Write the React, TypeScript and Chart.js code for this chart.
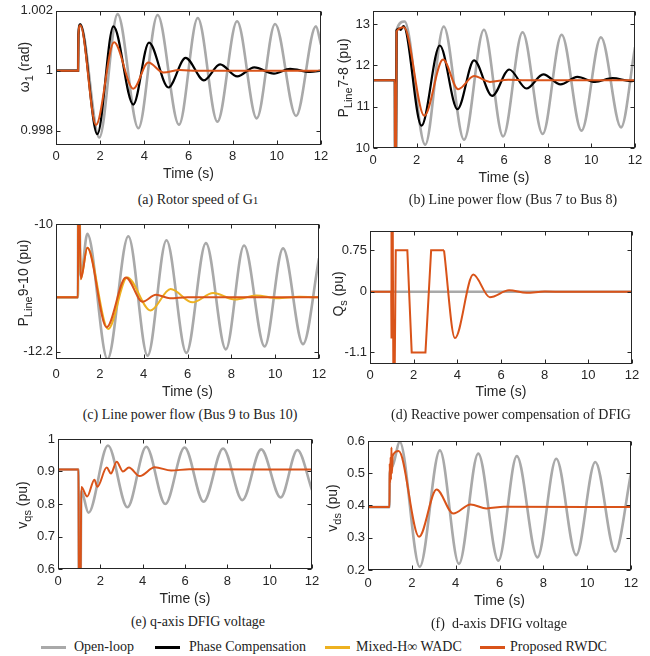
import React, { useEffect, useRef } from 'react';
import { Chart, registerables } from 'chart.js';
Chart.register(...registerables);

type P = [number, number];

// ---------------- data (time in s, value) ----------------
const TIME_TICKS = [0, 2, 4, 6, 8, 10, 12];

// (a) Rotor speed of G1
const A_Y_TICKS = [0.998, 1, 1.002];
const A_OPEN: P[] = [[0, 1], [1.0, 1], [1.015, 1.0012], [1.1, 1.00155], [1.96, 0.99777], [2.79, 1.00189], [3.73, 0.99808], [4.6, 1.00186], [5.57, 0.9982], [6.42, 1.00176], [7.31, 0.9983], [8.2, 1.00165], [9.09, 0.99841], [9.92, 1.00156], [10.87, 0.99849], [11.77, 1.00148], [12, 1.00087]];
const A_PHASE: P[] = [[0, 1], [1.0, 1], [1.015, 1.0012], [1.1, 1.00155], [1.87, 0.99788], [2.6, 1.00148], [3.5, 0.99887], [4.21, 1.00094], [5.09, 0.99944], [5.87, 1.00043], [6.7, 0.99968], [7.43, 1.00021], [8.21, 0.99981], [8.98, 1.00011], [9.87, 0.9999], [10.6, 1.00006], [11.5, 0.99996], [12, 1]];
const A_RWDC: P[] = [[0, 1], [1.0, 1], [1.015, 1.0012], [1.1, 1.00152], [1.81, 0.99819], [2.63, 1.00095], [3.5, 0.9994], [4.18, 1.00027], [4.86, 0.99994], [5.6, 1.00002], [6.4, 1], [12, 1]];

// (b) Line power flow 7-8
const B_Y_TICKS = [10, 11, 12, 13];
const B_OPEN: P[] = [[0, 11.64], [1.0, 11.64], [1.01, 9.2], [1.05, 9.2], [1.08, 12.85], [1.45, 13.06], [2.39, 10.08], [3.24, 12.94], [4.17, 10.2], [5.08, 12.86], [5.96, 10.28], [6.85, 12.8], [7.77, 10.34], [8.64, 12.74], [9.55, 10.42], [10.44, 12.68], [11.36, 10.5], [12, 12.44]];
const B_PHASE: P[] = [[0, 11.64], [1.0, 11.64], [1.01, 9.2], [1.05, 9.2], [1.08, 12.85], [1.2, 12.89], [1.27, 12.86], [1.4, 12.95], [2.22, 10.54], [3.06, 12.48], [3.87, 10.94], [4.63, 12.12], [5.46, 11.26], [6.24, 11.9], [7.03, 11.44], [7.8, 11.78], [8.59, 11.54], [9.36, 11.72], [10.17, 11.6], [10.98, 11.69], [11.8, 11.62], [12, 11.63]];
const B_RWDC: P[] = [[0, 11.64], [1.0, 11.64], [1.01, 9.2], [1.05, 9.2], [1.08, 12.82], [1.42, 12.92], [2.35, 10.78], [3.21, 12.14], [3.9, 11.42], [4.63, 11.74], [5.35, 11.6], [6.2, 11.65], [7, 11.64], [12, 11.64]];

// (c) Line power flow 9-10
const C_Y_TICKS = [-12.2, -10];
const C_OPEN: P[] = [[0, -11.264], [1.0, -11.264], [1.015, -9.5], [1.05, -9.5], [1.13, -10.9], [1.43, -10.17], [2.35, -12.33], [3.3, -10.21], [4.18, -12.27], [5.04, -10.28], [5.95, -12.22], [6.84, -10.33], [7.75, -12.16], [8.58, -10.37], [9.52, -12.11], [10.36, -10.42], [11.27, -12.07], [12, -10.59]];
const C_MIXED: P[] = [[0, -11.264], [1.0, -11.264], [1.015, -9.5], [1.05, -9.5], [1.13, -10.95], [1.43, -10.41], [2.38, -11.81], [3.25, -10.92], [4.31, -11.49], [5.23, -11.12], [6.23, -11.35], [7.17, -11.19], [8.16, -11.3], [9.14, -11.23], [10.1, -11.28], [11.1, -11.255], [12, -11.264]];
const C_RWDC: P[] = [[0, -11.264], [1.0, -11.264], [1.015, -9.5], [1.05, -9.5], [1.13, -10.95], [1.43, -10.41], [2.31, -11.78], [3.19, -10.92], [3.95, -11.34], [4.56, -11.22], [5.2, -11.28], [6.0, -11.26], [12, -11.264]];

// (d) Reactive power compensation of DFIG
const D_Y_TICKS = [-1.1, 0, 0.75];
const D_OPEN: P[] = [[0, 0], [12, 0]];
const D_RWDC_SAT: P[] = [[0, 0], [0.97, 0], [0.98, -0.85], [0.99, 1.4], [1.02, 1.4], [1.03, -0.85], [1.05, 1.4], [1.07, -1.5], [1.13, -1.5], [1.18, 0.75], [1.71, 0.75], [1.91, -1.1], [2.54, -1.1], [2.8, 0.75], [3.39, 0.75]];
const D_RWDC_OSC: P[] = [[3.39, 0.75], [3.89, -0.84], [4.73, 0.31], [5.49, -0.1], [6.37, 0.025], [7.17, -0.02], [8.0, 0.002], [9, 0], [12, 0]];

// (e) q-axis DFIG voltage
const E_Y_TICKS = [0.6, 0.7, 0.8, 0.9, 1];
const E_OPEN: P[] = [[0, 0.906], [0.97, 0.906], [0.99, 0.5], [1.06, 0.5], [1.1, 0.84], [1.44, 0.773], [2.36, 0.98], [3.28, 0.79], [4.17, 0.976], [5.07, 0.8], [5.98, 0.974], [6.88, 0.807], [7.8, 0.971], [8.71, 0.812], [9.6, 0.968], [10.52, 0.82], [11.31, 0.966], [12, 0.843]];
const E_RWDC: P[] = [[0, 0.906], [0.97, 0.906], [0.99, 0.5], [1.06, 0.5], [1.1, 0.852], [1.38, 0.823], [1.72, 0.875], [1.86, 0.853], [2.3, 0.912], [2.5, 0.894], [2.77, 0.93], [3.07, 0.9], [3.35, 0.912], [3.86, 0.886], [4.57, 0.913], [5.35, 0.903], [6.2, 0.907], [12, 0.906]];

// (f) d-axis DFIG voltage
const F_Y_TICKS = [0.2, 0.3, 0.4, 0.5, 0.6];
const F_OPEN: P[] = [[0, 0.395], [0.98, 0.395], [0.995, 0.5], [1.1, 0.52], [1.45, 0.597], [2.36, 0.21], [3.28, 0.571], [4.15, 0.219], [5.03, 0.561], [5.95, 0.229], [6.79, 0.553], [7.73, 0.239], [8.59, 0.545], [9.5, 0.246], [10.37, 0.535], [11.28, 0.257], [12, 0.5]];
const F_RWDC: P[] = [[0, 0.395], [0.98, 0.395], [0.99, 0.53], [1.01, 0.47], [1.03, 0.55], [1.05, 0.48], [1.07, 0.58], [1.09, 0.5], [1.13, 0.555], [1.4, 0.569], [2.33, 0.303], [3.13, 0.45], [3.89, 0.375], [4.68, 0.403], [5.41, 0.391], [6.2, 0.396], [12, 0.395]];

const LEGEND_LABELS = ['Open-loop', 'Phase Compensation', 'Mixed-H\u221E WADC', 'Proposed RWDC'];

// ---------------- styles ----------------
const C_OPEN_COL = '#a9a9a9';
const C_PHASE_COL = '#000000';
const C_MIXED_COL = '#EDB120';
const C_RWDC_COL = '#D95319';
const AX = '#262626';
const SANS = '"Liberation Sans", Arial, Helvetica, sans-serif';
const SERIF = '"Liberation Serif", "Times New Roman", serif';
const TICK_SIZE = 13;
const TITLE_SIZE = 14;

interface Series { data: P[]; color: string; width: number; smooth: boolean }
interface TitlePart { text: string; sub?: boolean }
interface PanelCfg {
  box: { left: number; top: number; width: number; height: number };
  plot: { left: number; top: number; right: number; bottom: number };
  yMin: number; yMax: number; yTicks: number[];
  yTitle: TitlePart[]; yTitleX: number; yTitleY: number;
  xTickPad: number;
  series: Series[];
}

const sRwdc = (d: P[], smooth = true): Series => ({ data: d, color: C_RWDC_COL, width: 2, smooth });
const sMixed = (d: P[]): Series => ({ data: d, color: C_MIXED_COL, width: 2, smooth: true });
const sPhase = (d: P[]): Series => ({ data: d, color: C_PHASE_COL, width: 2.2, smooth: true });
const sOpen = (d: P[]): Series => ({ data: d, color: C_OPEN_COL, width: 2.6, smooth: true });

const PANELS: PanelCfg[] = [
  {
    box: { left: 0, top: 0, width: 335, height: 183 },
    plot: { left: 56, top: 10, right: 321, bottom: 145 },
    yMin: 0.99752, yMax: 1.002, yTicks: A_Y_TICKS,
    yTitle: [{ text: '\u03C9' }, { text: '1', sub: true }, { text: ' (rad)' }], yTitleX: 25, yTitleY: 67,
    xTickPad: 3.9,
    series: [sRwdc(A_RWDC), sPhase(A_PHASE), sOpen(A_OPEN)],
  },
  {
    box: { left: 325, top: 0, width: 325, height: 187 },
    plot: { left: 373, top: 10, right: 635, bottom: 148 },
    yMin: 10, yMax: 13.32, yTicks: B_Y_TICKS,
    yTitle: [{ text: 'P' }, { text: 'Line', sub: true }, { text: '7-8 (pu)' }], yTitleX: 344, yTitleY: 78,
    xTickPad: 4.9,
    series: [sRwdc(B_RWDC), sPhase(B_PHASE), sOpen(B_OPEN)],
  },
  {
    box: { left: 0, top: 210, width: 335, height: 191 },
    plot: { left: 56, top: 224, right: 319, bottom: 359 },
    yMin: -12.326, yMax: -10, yTicks: C_Y_TICKS,
    yTitle: [{ text: 'P' }, { text: 'Line', sub: true }, { text: '9-10 (pu)' }], yTitleX: 24, yTitleY: 283,
    xTickPad: 7.2,
    series: [sRwdc(C_RWDC), sMixed(C_MIXED), sOpen(C_OPEN)],
  },
  {
    box: { left: 325, top: 212, width: 325, height: 189 },
    plot: { left: 370, top: 231, right: 632, bottom: 364 },
    yMin: -1.31, yMax: 1.1, yTicks: D_Y_TICKS,
    yTitle: [{ text: 'Q' }, { text: 's', sub: true }, { text: ' (pu)' }], yTitleX: 339, yTitleY: 294,
    xTickPad: 3.9,
    series: [sRwdc(D_RWDC_SAT, false), sRwdc(D_RWDC_OSC), sOpen(D_OPEN)],
  },
  {
    box: { left: 0, top: 425, width: 335, height: 183 },
    plot: { left: 58, top: 439, right: 312, bottom: 569 },
    yMin: 0.6, yMax: 1, yTicks: E_Y_TICKS,
    yTitle: [{ text: 'v' }, { text: 'qs', sub: true }, { text: ' (pu)' }], yTitleX: 23, yTitleY: 505,
    xTickPad: 4.2,
    series: [sRwdc(E_RWDC), sOpen(E_OPEN)],
  },
  {
    box: { left: 325, top: 425, width: 325, height: 185 },
    plot: { left: 368, top: 441, right: 631, bottom: 570 },
    yMin: 0.2, yMax: 0.6, yTicks: F_Y_TICKS,
    yTitle: [{ text: 'v' }, { text: 'ds', sub: true }, { text: ' (pu)' }], yTitleX: 333, yTitleY: 508,
    xTickPad: 5.5,
    series: [sRwdc(F_RWDC), sOpen(F_OPEN)],
  },
];

const fmt = (v: number) => String(Number(Number(v).toFixed(4)));

function Panel({ cfg }: { cfg: PanelCfg }) {
  const ref = useRef<HTMLCanvasElement>(null);
  useEffect(() => {
    const c = cfg;
    const boxPlugin = {
      id: 'matlabBox',
      afterDatasetsDraw(chart: any) {
        const { ctx, chartArea: a, scales } = chart;
        ctx.save();
        ctx.strokeStyle = AX;
        ctx.lineWidth = 1;
        const L = Math.round(a.left) + 0.5, R = Math.round(a.right) - 0.5;
        const T = Math.round(a.top) + 0.5, B = Math.round(a.bottom) - 0.5;
        ctx.strokeRect(L, T, R - L, B - T);
        const tl = 4;
        ctx.beginPath();
        for (const t of scales.x.ticks) {
          const px = Math.round(scales.x.getPixelForValue(t.value)) + 0.5;
          ctx.moveTo(px, B); ctx.lineTo(px, B - tl);
          ctx.moveTo(px, T); ctx.lineTo(px, T + tl);
        }
        for (const t of scales.y.ticks) {
          const py = Math.round(scales.y.getPixelForValue(t.value)) + 0.5;
          ctx.moveTo(L, py); ctx.lineTo(L + tl, py);
          ctx.moveTo(R, py); ctx.lineTo(R - tl, py);
        }
        ctx.stroke();
        // y-axis title with subscript
        const mainFont = `${TITLE_SIZE}px ${SANS}`;
        const subFont = `11px ${SANS}`;
        let total = 0;
        const widths: number[] = [];
        for (const p of c.yTitle) {
          ctx.font = p.sub ? subFont : mainFont;
          const w = ctx.measureText(p.text).width;
          widths.push(w); total += w;
        }
        ctx.translate(c.yTitleX - c.box.left, c.yTitleY - c.box.top);
        ctx.rotate(-Math.PI / 2);
        ctx.fillStyle = AX;
        ctx.textBaseline = 'middle';
        ctx.textAlign = 'left';
        let x = -total / 2;
        c.yTitle.forEach((p, i) => {
          ctx.font = p.sub ? subFont : mainFont;
          ctx.fillText(p.text, x, p.sub ? 4.5 : 0);
          x += widths[i];
        });
        ctx.restore();
      },
    };
    const chart = new Chart(ref.current as HTMLCanvasElement, {
      type: 'line',
      data: {
        datasets: c.series.map((s) => ({
          data: s.data.map(([x, y]) => ({ x, y })),
          borderColor: s.color,
          borderWidth: s.width,
          pointRadius: 0,
          fill: false,
          tension: 0,
          cubicInterpolationMode: s.smooth ? 'monotone' : 'default',
          clip: 0,
        })) as any,
      },
      options: {
        animation: false,
        responsive: false,
        devicePixelRatio: 1,
        layout: {
          padding: {
            left: 0,
            top: c.plot.top - c.box.top,
            right: c.box.left + c.box.width - c.plot.right,
            bottom: 0,
          },
        },
        plugins: { legend: { display: false }, tooltip: { enabled: false } },
        scales: {
          x: {
            type: 'linear',
            min: 0,
            max: 12,
            afterBuildTicks: (s: any) => { s.ticks = TIME_TICKS.map((v) => ({ value: v })); },
            afterFit: (s: any) => { s.height = c.box.top + c.box.height - c.plot.bottom; },
            grid: { display: false, drawTicks: false },
            border: { display: false },
            ticks: { font: { family: SANS, size: TICK_SIZE }, color: AX, padding: c.xTickPad, maxRotation: 0, autoSkip: false, callback: (v: any) => fmt(v) },
            title: { display: true, text: 'Time (s)', font: { family: SANS, size: TITLE_SIZE }, color: AX, padding: { top: 0, bottom: 0 } },
          },
          y: {
            type: 'linear',
            min: c.yMin,
            max: c.yMax,
            afterBuildTicks: (s: any) => { s.ticks = c.yTicks.map((v) => ({ value: v })); },
            afterFit: (s: any) => { s.width = c.plot.left - c.box.left; },
            grid: { display: false, drawTicks: false },
            border: { display: false },
            ticks: { font: { family: SANS, size: TICK_SIZE }, color: AX, padding: 3, autoSkip: false, callback: (v: any) => fmt(v) },
          },
        },
      } as any,
      plugins: [boxPlugin],
    });
    return () => chart.destroy();
  }, [cfg]);
  return (
    <canvas
      ref={ref}
      width={cfg.box.width}
      height={cfg.box.height}
      style={{ position: 'absolute', left: cfg.box.left, top: cfg.box.top, width: cfg.box.width, height: cfg.box.height }}
    />
  );
}

const CAPTIONS: { node: React.ReactNode; x: number; y: number }[] = [
  { node: <>(a) Rotor speed of G<span style={{ fontSize: '0.8em' }}>1</span></>, x: 198, y: 200 },
  { node: '(b) Line power flow (Bus 7 to Bus 8)', x: 513, y: 200 },
  { node: '(c) Line power flow (Bus 9 to Bus 10)', x: 190, y: 415 },
  { node: '(d) Reactive power compensation of DFIG', x: 511, y: 415 },
  { node: '(e) q-axis DFIG voltage', x: 198, y: 622 },
  { node: '(f)  d-axis DFIG voltage', x: 499, y: 624 },
];

const LEGEND_POS = [
  { color: C_OPEN_COL, lx: 41, tx: 74 },
  { color: C_PHASE_COL, lx: 155, tx: 189 },
  { color: C_MIXED_COL, lx: 325, tx: 356 },
  { color: C_RWDC_COL, lx: 480, tx: 510 },
];

export default function App() {
  return (
    <div style={{ position: 'absolute', left: 0, top: 0, width: 650, height: 656, background: '#fff', overflow: 'hidden' }}>
      {PANELS.map((p, i) => <Panel key={i} cfg={p} />)}
      {CAPTIONS.map((c, i) => (
        <div key={i} style={{ position: 'absolute', left: c.x, top: c.y - 9, transform: 'translateX(-50%)', whiteSpace: 'pre', font: `14px ${SERIF}`, lineHeight: '18px', color: '#222' }}>{c.node}</div>
      ))}
      {LEGEND_LABELS.map((t, i) => (
        <React.Fragment key={i}>
          <div style={{ position: 'absolute', left: LEGEND_POS[i].lx, top: 646, width: 25, height: 3, background: LEGEND_POS[i].color }} />
          <div style={{ position: 'absolute', left: LEGEND_POS[i].tx, top: 638, whiteSpace: 'pre', font: `14px ${SERIF}`, lineHeight: '18px', color: '#222' }}>{t}</div>
        </React.Fragment>
      ))}
    </div>
  );
}
